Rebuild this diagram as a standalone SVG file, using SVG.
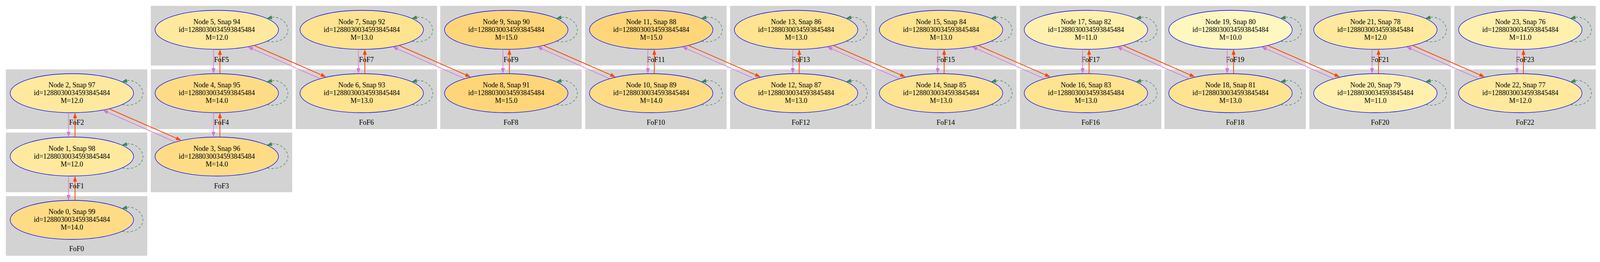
<svg xmlns="http://www.w3.org/2000/svg" width="4099" height="672" viewBox="0 0 4099 672">
<style>
.cl{fill:#d3d3d3}
text{font-family:"Liberation Serif","Times New Roman",serif;font-size:18px;text-anchor:middle;fill:#000}
.nd ellipse{stroke:#0000ff;stroke-width:1.3}
.m10{fill:#fff7c0}.m11{fill:#fff0ae}.m12{fill:#fee99e}.m13{fill:#fee390}.m14{fill:#fedc85}.m15{fill:#fed679}
.ev{stroke:#da70d6;stroke-width:1.5;fill:none}
.er{stroke:#ff4500;stroke-width:2;fill:none}
.lp{stroke:#2e8b57;stroke-width:1.3;fill:none;stroke-dasharray:6,5}
</style>
<defs>
<marker id="aV" markerWidth="14" markerHeight="10" refX="0" refY="5" orient="auto" markerUnits="userSpaceOnUse"><path d="M0,0 L14,5 L0,10 z" fill="#da70d6"/></marker>
<marker id="aR" markerWidth="14" markerHeight="10" refX="0" refY="5" orient="auto" markerUnits="userSpaceOnUse"><path d="M0,0 L14,5 L0,10 z" fill="#ff4500"/></marker>
<marker id="aG" markerWidth="14" markerHeight="10" refX="0" refY="5" orient="auto" markerUnits="userSpaceOnUse"><path d="M0,0 L14,5 L0,10 z" fill="#2e8b57"/></marker>
<path id="loop" d="M129,29 C155,36 182,22 182,0 C182,-18 160,-36 141,-32"/>
</defs>
<rect width="4099" height="672" fill="#fff"/>
<g id="clusters">
<g id="cluster_FoF0"><rect class="cl" x="15" y="503" width="362" height="153"/><text x="196" y="644">FoF0</text></g>
<g id="cluster_FoF1"><rect class="cl" x="15" y="340" width="362" height="153"/><text x="196" y="483">FoF1</text></g>
<g id="cluster_FoF2"><rect class="cl" x="15" y="178" width="362" height="153"/><text x="196" y="320">FoF2</text></g>
<g id="cluster_FoF3"><rect class="cl" x="386" y="340" width="362" height="153"/><text x="567" y="483">FoF3</text></g>
<g id="cluster_FoF4"><rect class="cl" x="386" y="178" width="362" height="153"/><text x="567" y="320">FoF4</text></g>
<g id="cluster_FoF5"><rect class="cl" x="386" y="15" width="362" height="153"/><text x="567" y="159">FoF5</text></g>
<g id="cluster_FoF6"><rect class="cl" x="757" y="178" width="362" height="153"/><text x="938" y="320">FoF6</text></g>
<g id="cluster_FoF7"><rect class="cl" x="757" y="15" width="362" height="153"/><text x="938" y="159">FoF7</text></g>
<g id="cluster_FoF8"><rect class="cl" x="1127" y="178" width="362" height="153"/><text x="1308" y="320">FoF8</text></g>
<g id="cluster_FoF9"><rect class="cl" x="1127" y="15" width="362" height="153"/><text x="1308" y="159">FoF9</text></g>
<g id="cluster_FoF10"><rect class="cl" x="1498" y="178" width="362" height="153"/><text x="1679" y="320">FoF10</text></g>
<g id="cluster_FoF11"><rect class="cl" x="1498" y="15" width="362" height="153"/><text x="1679" y="159">FoF11</text></g>
<g id="cluster_FoF12"><rect class="cl" x="1869" y="178" width="362" height="153"/><text x="2050" y="320">FoF12</text></g>
<g id="cluster_FoF13"><rect class="cl" x="1869" y="15" width="362" height="153"/><text x="2050" y="159">FoF13</text></g>
<g id="cluster_FoF14"><rect class="cl" x="2240" y="178" width="362" height="153"/><text x="2421" y="320">FoF14</text></g>
<g id="cluster_FoF15"><rect class="cl" x="2240" y="15" width="362" height="153"/><text x="2421" y="159">FoF15</text></g>
<g id="cluster_FoF16"><rect class="cl" x="2611" y="178" width="362" height="153"/><text x="2792" y="320">FoF16</text></g>
<g id="cluster_FoF17"><rect class="cl" x="2611" y="15" width="362" height="153"/><text x="2792" y="159">FoF17</text></g>
<g id="cluster_FoF18"><rect class="cl" x="2981" y="178" width="362" height="153"/><text x="3162" y="320">FoF18</text></g>
<g id="cluster_FoF19"><rect class="cl" x="2981" y="15" width="362" height="153"/><text x="3162" y="159">FoF19</text></g>
<g id="cluster_FoF20"><rect class="cl" x="3352" y="178" width="362" height="153"/><text x="3533" y="320">FoF20</text></g>
<g id="cluster_FoF21"><rect class="cl" x="3352" y="15" width="362" height="153"/><text x="3533" y="159">FoF21</text></g>
<g id="cluster_FoF22"><rect class="cl" x="3723" y="178" width="362" height="153"/><text x="3904" y="320">FoF22</text></g>
<g id="cluster_FoF23"><rect class="cl" x="3723" y="15" width="362" height="153"/><text x="3904" y="159">FoF23</text></g>
</g>
<g id="nodes">
<g id="node0" class="nd" transform="translate(184,564)"><ellipse class="m14" rx="158" ry="50"/><text y="-15">Node 0, Snap 99</text><text y="5">id=1288030034593845484</text><text y="25">M=14.0</text></g>
<g id="node1" class="nd" transform="translate(184,401.5)"><ellipse class="m12" rx="158" ry="50"/><text y="-15">Node 1, Snap 98</text><text y="5">id=1288030034593845484</text><text y="25">M=12.0</text></g>
<g id="node2" class="nd" transform="translate(184,239)"><ellipse class="m12" rx="158" ry="50"/><text y="-15">Node 2, Snap 97</text><text y="5">id=1288030034593845484</text><text y="25">M=12.0</text></g>
<g id="node3" class="nd" transform="translate(555,401.5)"><ellipse class="m14" rx="158" ry="50"/><text y="-15">Node 3, Snap 96</text><text y="5">id=1288030034593845484</text><text y="25">M=14.0</text></g>
<g id="node4" class="nd" transform="translate(555,239)"><ellipse class="m14" rx="158" ry="50"/><text y="-15">Node 4, Snap 95</text><text y="5">id=1288030034593845484</text><text y="25">M=14.0</text></g>
<g id="node5" class="nd" transform="translate(555,76.5)"><ellipse class="m12" rx="158" ry="50"/><text y="-15">Node 5, Snap 94</text><text y="5">id=1288030034593845484</text><text y="25">M=12.0</text></g>
<g id="node6" class="nd" transform="translate(926,239)"><ellipse class="m13" rx="158" ry="50"/><text y="-15">Node 6, Snap 93</text><text y="5">id=1288030034593845484</text><text y="25">M=13.0</text></g>
<g id="node7" class="nd" transform="translate(926,76.5)"><ellipse class="m13" rx="158" ry="50"/><text y="-15">Node 7, Snap 92</text><text y="5">id=1288030034593845484</text><text y="25">M=13.0</text></g>
<g id="node8" class="nd" transform="translate(1296,239)"><ellipse class="m15" rx="158" ry="50"/><text y="-15">Node 8, Snap 91</text><text y="5">id=1288030034593845484</text><text y="25">M=15.0</text></g>
<g id="node9" class="nd" transform="translate(1296,76.5)"><ellipse class="m15" rx="158" ry="50"/><text y="-15">Node 9, Snap 90</text><text y="5">id=1288030034593845484</text><text y="25">M=15.0</text></g>
<g id="node10" class="nd" transform="translate(1667,239)"><ellipse class="m14" rx="158" ry="50"/><text y="-15">Node 10, Snap 89</text><text y="5">id=1288030034593845484</text><text y="25">M=14.0</text></g>
<g id="node11" class="nd" transform="translate(1667,76.5)"><ellipse class="m15" rx="158" ry="50"/><text y="-15">Node 11, Snap 88</text><text y="5">id=1288030034593845484</text><text y="25">M=15.0</text></g>
<g id="node12" class="nd" transform="translate(2038,239)"><ellipse class="m13" rx="158" ry="50"/><text y="-15">Node 12, Snap 87</text><text y="5">id=1288030034593845484</text><text y="25">M=13.0</text></g>
<g id="node13" class="nd" transform="translate(2038,76.5)"><ellipse class="m13" rx="158" ry="50"/><text y="-15">Node 13, Snap 86</text><text y="5">id=1288030034593845484</text><text y="25">M=13.0</text></g>
<g id="node14" class="nd" transform="translate(2409,239)"><ellipse class="m13" rx="158" ry="50"/><text y="-15">Node 14, Snap 85</text><text y="5">id=1288030034593845484</text><text y="25">M=13.0</text></g>
<g id="node15" class="nd" transform="translate(2409,76.5)"><ellipse class="m13" rx="158" ry="50"/><text y="-15">Node 15, Snap 84</text><text y="5">id=1288030034593845484</text><text y="25">M=13.0</text></g>
<g id="node16" class="nd" transform="translate(2780,239)"><ellipse class="m13" rx="158" ry="50"/><text y="-15">Node 16, Snap 83</text><text y="5">id=1288030034593845484</text><text y="25">M=13.0</text></g>
<g id="node17" class="nd" transform="translate(2780,76.5)"><ellipse class="m11" rx="158" ry="50"/><text y="-15">Node 17, Snap 82</text><text y="5">id=1288030034593845484</text><text y="25">M=11.0</text></g>
<g id="node18" class="nd" transform="translate(3150,239)"><ellipse class="m13" rx="158" ry="50"/><text y="-15">Node 18, Snap 81</text><text y="5">id=1288030034593845484</text><text y="25">M=13.0</text></g>
<g id="node19" class="nd" transform="translate(3150,76.5)"><ellipse class="m10" rx="158" ry="50"/><text y="-15">Node 19, Snap 80</text><text y="5">id=1288030034593845484</text><text y="25">M=10.0</text></g>
<g id="node20" class="nd" transform="translate(3521,239)"><ellipse class="m11" rx="158" ry="50"/><text y="-15">Node 20, Snap 79</text><text y="5">id=1288030034593845484</text><text y="25">M=11.0</text></g>
<g id="node21" class="nd" transform="translate(3521,76.5)"><ellipse class="m12" rx="158" ry="50"/><text y="-15">Node 21, Snap 78</text><text y="5">id=1288030034593845484</text><text y="25">M=12.0</text></g>
<g id="node22" class="nd" transform="translate(3892,239)"><ellipse class="m12" rx="158" ry="50"/><text y="-15">Node 22, Snap 77</text><text y="5">id=1288030034593845484</text><text y="25">M=12.0</text></g>
<g id="node23" class="nd" transform="translate(3892,76.5)"><ellipse class="m11" rx="158" ry="50"/><text y="-15">Node 23, Snap 76</text><text y="5">id=1288030034593845484</text><text y="25">M=11.0</text></g>
</g>
<g id="edges">
<path class="ev" d="M175.5,451.5 V500" marker-end="url(#aV)"/>
<path class="er" d="M192,514 V465.5" marker-end="url(#aR)"/>
<path class="ev" d="M175.5,289 V337.5" marker-end="url(#aV)"/>
<path class="er" d="M192,351.5 V303" marker-end="url(#aR)"/>
<path class="ev" d="M546.5,289 V337.5" marker-end="url(#aV)"/>
<path class="er" d="M563,351.5 V303" marker-end="url(#aR)"/>
<path class="ev" d="M546.5,126.5 V175" marker-end="url(#aV)"/>
<path class="er" d="M563,189 V140.5" marker-end="url(#aR)"/>
<path class="ev" d="M917.5,126.5 V175" marker-end="url(#aV)"/>
<path class="er" d="M934,189 V140.5" marker-end="url(#aR)"/>
<path class="ev" d="M1287.5,126.5 V175" marker-end="url(#aV)"/>
<path class="er" d="M1304,189 V140.5" marker-end="url(#aR)"/>
<path class="ev" d="M1658.5,126.5 V175" marker-end="url(#aV)"/>
<path class="er" d="M1675,189 V140.5" marker-end="url(#aR)"/>
<path class="ev" d="M2029.5,126.5 V175" marker-end="url(#aV)"/>
<path class="er" d="M2046,189 V140.5" marker-end="url(#aR)"/>
<path class="ev" d="M2400.5,126.5 V175" marker-end="url(#aV)"/>
<path class="er" d="M2417,189 V140.5" marker-end="url(#aR)"/>
<path class="ev" d="M2771.5,126.5 V175" marker-end="url(#aV)"/>
<path class="er" d="M2788,189 V140.5" marker-end="url(#aR)"/>
<path class="ev" d="M3141.5,126.5 V175" marker-end="url(#aV)"/>
<path class="er" d="M3158,189 V140.5" marker-end="url(#aR)"/>
<path class="ev" d="M3512.5,126.5 V175" marker-end="url(#aV)"/>
<path class="er" d="M3529,189 V140.5" marker-end="url(#aR)"/>
<path class="ev" d="M3883.5,126.5 V175" marker-end="url(#aV)"/>
<path class="er" d="M3900,189 V140.5" marker-end="url(#aR)"/>
<path class="er" d="M279,279 L451.2,354.4" marker-end="url(#aR)"/>
<path class="ev" d="M448,364 L275.8,288" marker-end="url(#aV)"/>
<path class="er" d="M650,116.5 L822.2,191.9" marker-end="url(#aR)"/>
<path class="ev" d="M819,201.5 L646.8,125.5" marker-end="url(#aV)"/>
<path class="er" d="M1021,116.5 L1192.2,191.9" marker-end="url(#aR)"/>
<path class="ev" d="M1189,201.5 L1017.8,125.5" marker-end="url(#aV)"/>
<path class="er" d="M1391,116.5 L1563.2,191.9" marker-end="url(#aR)"/>
<path class="ev" d="M1560,201.5 L1387.8,125.5" marker-end="url(#aV)"/>
<path class="er" d="M1762,116.5 L1934.2,191.9" marker-end="url(#aR)"/>
<path class="ev" d="M1931,201.5 L1758.8,125.5" marker-end="url(#aV)"/>
<path class="er" d="M2133,116.5 L2305.2,191.9" marker-end="url(#aR)"/>
<path class="ev" d="M2302,201.5 L2129.8,125.5" marker-end="url(#aV)"/>
<path class="er" d="M2504,116.5 L2676.2,191.9" marker-end="url(#aR)"/>
<path class="ev" d="M2673,201.5 L2500.8,125.5" marker-end="url(#aV)"/>
<path class="er" d="M2875,116.5 L3046.2,191.9" marker-end="url(#aR)"/>
<path class="ev" d="M3043,201.5 L2871.8,125.5" marker-end="url(#aV)"/>
<path class="er" d="M3245,116.5 L3417.2,191.9" marker-end="url(#aR)"/>
<path class="ev" d="M3414,201.5 L3241.8,125.5" marker-end="url(#aV)"/>
<path class="er" d="M3616,116.5 L3788.2,191.9" marker-end="url(#aR)"/>
<path class="ev" d="M3785,201.5 L3612.8,125.5" marker-end="url(#aV)"/>
<g class="lp">
<use href="#loop" transform="translate(184,564)" marker-end="url(#aG)"/>
<use href="#loop" transform="translate(184,401.5)" marker-end="url(#aG)"/>
<use href="#loop" transform="translate(184,239)" marker-end="url(#aG)"/>
<use href="#loop" transform="translate(555,401.5)" marker-end="url(#aG)"/>
<use href="#loop" transform="translate(555,239)" marker-end="url(#aG)"/>
<use href="#loop" transform="translate(555,76.5)" marker-end="url(#aG)"/>
<use href="#loop" transform="translate(926,239)" marker-end="url(#aG)"/>
<use href="#loop" transform="translate(926,76.5)" marker-end="url(#aG)"/>
<use href="#loop" transform="translate(1296,239)" marker-end="url(#aG)"/>
<use href="#loop" transform="translate(1296,76.5)" marker-end="url(#aG)"/>
<use href="#loop" transform="translate(1667,239)" marker-end="url(#aG)"/>
<use href="#loop" transform="translate(1667,76.5)" marker-end="url(#aG)"/>
<use href="#loop" transform="translate(2038,239)" marker-end="url(#aG)"/>
<use href="#loop" transform="translate(2038,76.5)" marker-end="url(#aG)"/>
<use href="#loop" transform="translate(2409,239)" marker-end="url(#aG)"/>
<use href="#loop" transform="translate(2409,76.5)" marker-end="url(#aG)"/>
<use href="#loop" transform="translate(2780,239)" marker-end="url(#aG)"/>
<use href="#loop" transform="translate(2780,76.5)" marker-end="url(#aG)"/>
<use href="#loop" transform="translate(3150,239)" marker-end="url(#aG)"/>
<use href="#loop" transform="translate(3150,76.5)" marker-end="url(#aG)"/>
<use href="#loop" transform="translate(3521,239)" marker-end="url(#aG)"/>
<use href="#loop" transform="translate(3521,76.5)" marker-end="url(#aG)"/>
<use href="#loop" transform="translate(3892,239)" marker-end="url(#aG)"/>
<use href="#loop" transform="translate(3892,76.5)" marker-end="url(#aG)"/>
</g>
</g>
</svg>
